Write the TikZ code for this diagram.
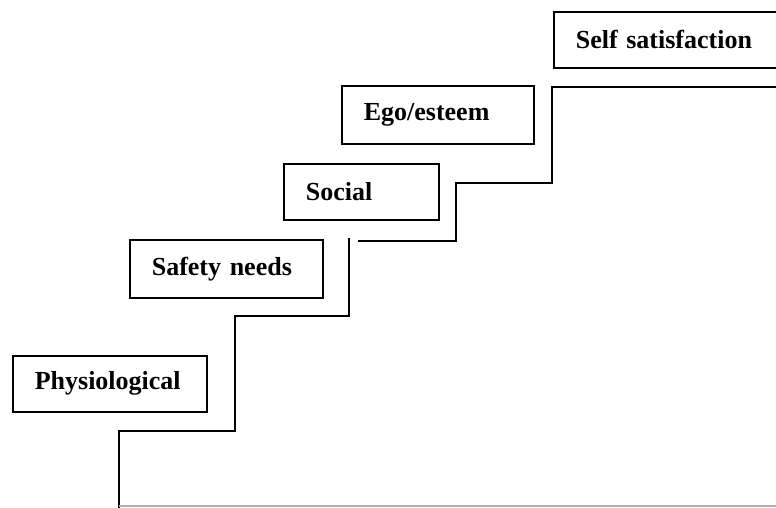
\documentclass[tikz,border=0pt]{standalone}
\usepackage{fontspec}
\setmainfont{Liberation Serif}
\usepackage{tikz}

\tikzset{
  needbox/.style={draw, line width=1.6pt, anchor=north west, align=left,
    inner xsep=22pt, inner ysep=0pt, font=\fontsize{26}{30}\selectfont\bfseries},
  stairs/.style={line width=1.6pt, line join=miter}
}

\begin{document}
\begin{tikzpicture}[x=1pt,y=-1pt]
        \useasboundingbox (0,0) rectangle (776,507);
        \clip (0,0) rectangle (776,507);
        \node[needbox, text width=150pt, minimum height=56pt] (phys) at (12,355) {Physiological};
        \node[needbox, text width=149pt, minimum height=58pt] (safety) at (129,239) {Safety needs};
        \node[needbox, text width=111pt, minimum height=56pt] (social) at (283,163) {Social};
        \node[needbox, text width=148pt, minimum height=58pt] (ego) at (341,85) {Ego/esteem};
        \node[needbox, text width=196pt, minimum height=56pt] (self) at (553,11) {Self satisfaction};
        \draw[stairs] (780,87) -- (552,87) -- (552,183) -- (456,183) -- (456,241) -- (358,241);
        \draw[stairs] (349,238) -- (349,316) -- (235,316) -- (235,431) -- (119,431) -- (119,510);
        \draw[gray!60, line width=1.4pt] (119,506) -- (776,506);
    \end{tikzpicture}
\end{document}
